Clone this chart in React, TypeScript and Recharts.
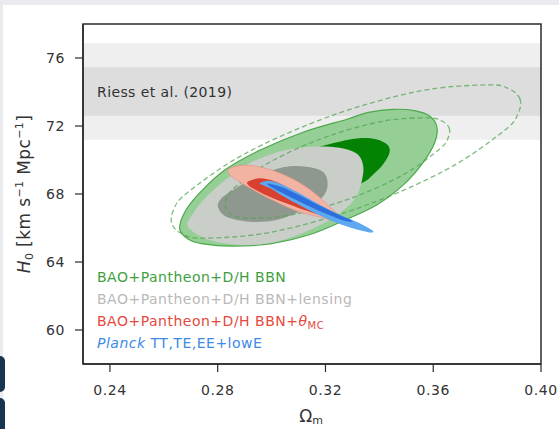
import React from 'react';
import { ScatterChart, Scatter, XAxis, YAxis, ReferenceArea, Curve, Customized } from 'recharts';

// ---- axes ----
const xDomain = [0.23, 0.4];
const yDomain = [58, 78];
const xTicks = [0.24, 0.28, 0.32, 0.36, 0.4];
const yTicks = [60, 64, 68, 72, 76];

// ---- Riess et al. (2019) band: H0 = 74.03 +- 1.42 ----
const riess1Sigma = [72.61, 75.45];
const riess2Sigma = [71.19, 76.87];

// ---- contours, [Omega_m, H0] ----
const green2Sigma = [
  [0.2659, 65.95], [0.269, 65.35], [0.274, 65.08], [0.2855, 64.93], [0.3, 65.08], [0.314, 65.6],
  [0.327, 66.45], [0.339, 67.35], [0.349, 68.55], [0.356, 69.8], [0.3605, 71.0], [0.3614, 71.9],
  [0.359, 72.55], [0.353, 72.9], [0.345, 72.98], [0.336, 72.8], [0.328, 72.4], [0.3115, 71.62],
  [0.296, 70.6], [0.283, 69.45], [0.2735, 68.1], [0.268, 67.0],
];
const green1Sigma = [
  [0.3178, 70.78], [0.3252, 71.08], [0.3326, 71.28], [0.3388, 71.22], [0.3431, 70.88], [0.3437, 70.39],
  [0.3412, 69.71], [0.3375, 69.12], [0.3344, 68.72], [0.325, 68.0], [0.312, 67.5], [0.299, 67.5],
  [0.293, 68.2], [0.299, 69.3], [0.308, 70.2],
];
const lensing2Sigma = [
  [0.269, 66.08], [0.277, 65.29], [0.2894, 65.0], [0.3017, 65.19], [0.3141, 65.88], [0.3252, 66.86],
  [0.3314, 67.84], [0.3338, 69.02], [0.3338, 69.81], [0.3314, 70.39], [0.3252, 70.72], [0.3153, 70.78],
  [0.3054, 70.59], [0.2943, 70.0], [0.2844, 69.02], [0.2758, 67.84], [0.2709, 66.86],
];
const lensing1Sigma = [
  [0.2801, 67.25], [0.2832, 66.66], [0.2919, 66.37], [0.3017, 66.47], [0.3116, 67.06], [0.319, 67.84],
  [0.3208, 68.63], [0.319, 69.31], [0.3129, 69.61], [0.3042, 69.57], [0.2943, 69.02], [0.2857, 68.24],
  [0.2814, 67.75],
];
const dashedOuter = [
  [0.3922, 73.59], [0.3916, 72.78], [0.3866, 71.76], [0.3651, 69.45], [0.3336, 67.25], [0.3004, 65.77],
  [0.2746, 65.4], [0.2667, 65.67], [0.263, 66.24], [0.2636, 67.05], [0.2686, 68.06], [0.2901, 70.37],
  [0.3216, 72.57], [0.3547, 74.05], [0.3806, 74.42], [0.3885, 74.15],
];
const dashedInner = [
  [0.3659, 71.88], [0.3656, 71.33], [0.3624, 70.65], [0.3487, 69.12], [0.3286, 67.7], [0.3073, 66.77],
  [0.2906, 66.58], [0.2854, 66.78], [0.283, 67.18], [0.2833, 67.73], [0.2865, 68.41], [0.3001, 69.94],
  [0.3203, 71.36], [0.3416, 72.29], [0.3583, 72.48], [0.3634, 72.28],
];
const theta2Sigma = [
  [0.284, 69.45], [0.2875, 69.66], [0.292, 69.68], [0.298, 69.5], [0.304, 69.18], [0.31, 68.7],
  [0.316, 68.05], [0.3215, 67.25], [0.3255, 66.62], [0.323, 66.45], [0.316, 66.72], [0.309, 67.02],
  [0.3, 67.66], [0.293, 68.25], [0.2875, 68.78], [0.2845, 69.12],
];
const theta1Sigma = [
  [0.2912, 68.72], [0.2956, 68.92], [0.301, 68.75], [0.3054, 68.43], [0.311, 67.95], [0.3153, 67.45],
  [0.32, 66.92], [0.3215, 66.7], [0.318, 66.78], [0.311, 67.12], [0.3054, 67.45], [0.299, 67.85],
  [0.294, 68.25], [0.2915, 68.5],
];
const planck2Sigma = [
  [0.2956, 68.63], [0.299, 68.78], [0.304, 68.55], [0.3091, 68.14], [0.315, 67.62], [0.3215, 67.08],
  [0.327, 66.66], [0.3314, 66.37], [0.3355, 66.05], [0.3378, 65.8], [0.3362, 65.74], [0.3301, 65.98],
  [0.3215, 66.47], [0.315, 66.95], [0.3091, 67.45], [0.304, 67.9], [0.3, 68.3], [0.2968, 68.52],
];
const planck1Sigma = [
  [0.2985, 68.62], [0.304, 68.4], [0.31, 67.95], [0.317, 67.38], [0.324, 66.85], [0.329, 66.5],
  [0.33, 66.38], [0.327, 66.42], [0.32, 66.85], [0.313, 67.35], [0.306, 67.9], [0.3005, 68.35],
];

const legendLabels = [
  'BAO+Pantheon+D/H BBN',
  'BAO+Pantheon+D/H BBN+lensing',
  'BAO+Pantheon+D/H BBN+',
  'TT,TE,EE+lowE',
];

const toPts = (arr: number[][]) => arr.map(([x, y]) => ({ x, y }));

// closed Catmull-Rom curve factory (d3 curve interface)
function catmullClosed(context: any) {
  let pts: number[][] = [];
  return {
    areaStart() {},
    areaEnd() {},
    lineStart() {
      pts = [];
    },
    point(x: number, y: number) {
      pts.push([x, y]);
    },
    lineEnd() {
      const n = pts.length;
      if (n < 3) return;
      context.moveTo(pts[0][0], pts[0][1]);
      for (let i = 0; i < n; i++) {
        const p0 = pts[(i - 1 + n) % n];
        const p1 = pts[i];
        const p2 = pts[(i + 1) % n];
        const p3 = pts[(i + 2) % n];
        context.bezierCurveTo(
          p1[0] + (p2[0] - p0[0]) / 6,
          p1[1] + (p2[1] - p0[1]) / 6,
          p2[0] - (p3[0] - p1[0]) / 6,
          p2[1] - (p3[1] - p1[1]) / 6,
          p2[0],
          p2[1]
        );
      }
      context.closePath();
    },
  };
}

const noShape = () => <g />;

function contour(key: string, data: number[][], style: any) {
  return (
    <Scatter
      key={key}
      data={toPts(data)}
      isAnimationActive={false}
      shape={noShape}
      lineType="joint"
      line={(p: any) => <Curve points={p.points} type={catmullClosed as any} {...style} />}
    />
  );
}

const AXIS = '#2b2b2b';
const TXT = '#333333';
const DASH = { fill: 'none', stroke: '#4fa34f', strokeOpacity: 0.72, strokeWidth: 1.3, strokeDasharray: '5 3' };

function TextLayer() {
  const fs = 14;
  const ls = 0.5;
  return (
    <g style={{ fontFamily: 'DejaVu Sans, sans-serif' }}>
      <text x={97} y={281.5} fontSize={fs} letterSpacing={ls} fill="#3f9f3f">{legendLabels[0]}</text>
      <text x={97} y={303.5} fontSize={fs} letterSpacing={ls} fill="#b9b9b9">{legendLabels[1]}</text>
      <text x={97} y={325.5} fontSize={fs} letterSpacing={ls} fill="#e5493d">
        {legendLabels[2]}
        <tspan fontStyle="italic">θ</tspan>
        <tspan fontSize={10} dy={3}>MC</tspan>
      </text>
      <text x={97} y={347.5} fontSize={fs} letterSpacing={ls} fill="#3d8ae8">
        <tspan fontStyle="italic">Planck</tspan> {legendLabels[3]}
      </text>
      <text x={311} y={422} fontSize={17} fill={TXT} textAnchor="middle">
        Ω<tspan fontSize={11} dy={2}>m</tspan>
      </text>
      <text
        x={24}
        y={194}
        transform="rotate(-90 24 194)"
        fontSize={17}
        letterSpacing={0.4}
        fill={TXT}
        textAnchor="middle"
        dy={6}
      >
        <tspan fontStyle="italic">H</tspan>
        <tspan fontSize={11} dy={3}>0</tspan>
        <tspan dy={-3}> [km s</tspan>
        <tspan fontSize={11} dy={-7}>−1</tspan>
        <tspan dy={7}> Mpc</tspan>
        <tspan fontSize={11} dy={-7}>−1</tspan>
        <tspan dy={7}>]</tspan>
      </text>
    </g>
  );
}

const riessLabel = (props: any) => {
  const vb = props.viewBox || { x: 83, y: 67, width: 458, height: 48 };
  return (
    <text
      x={vb.x + 14}
      y={vb.y + vb.height / 2 + 6}
      fontSize={14}
      letterSpacing={0.4}
      fill={TXT}
      style={{ fontFamily: 'DejaVu Sans, sans-serif' }}
    >
      Riess et al. (2019)
    </text>
  );
};

export default function App() {
  return (
    <div style={{ position: 'fixed', left: 0, top: 0, width: 559, height: 429, background: '#e9ebee', overflow: 'hidden' }}>
      <div style={{ position: 'absolute', left: 3, top: 5, right: 0, bottom: 0, background: '#ffffff' }} />
      <div style={{ position: 'absolute', left: 0, top: 356, width: 5, height: 36, background: '#18344f', borderRadius: '0 5px 5px 0' }} />
      <div style={{ position: 'absolute', left: 0, top: 398, width: 5, height: 31, background: '#18344f', borderRadius: '0 5px 0 0' }} />
      <div style={{ position: 'absolute', left: 0, top: 0 }}>
        <ScatterChart
          width={559}
          height={429}
          margin={{ top: 24, right: 18, bottom: 0, left: 0 }}
          style={{ fontFamily: 'DejaVu Sans, sans-serif' }}
        >
          <XAxis
            type="number"
            dataKey="x"
            domain={xDomain}
            allowDataOverflow
            ticks={xTicks}
            height={65}
            tickFormatter={(v: number) => v.toFixed(2)}
            tick={{ fontSize: 14, fill: TXT, letterSpacing: 0.6 }}
            tickSize={8}
            tickMargin={13}
            axisLine={{ stroke: AXIS, strokeWidth: 1.5 }}
            tickLine={{ stroke: AXIS, strokeWidth: 1.2 }}
          />
          <YAxis
            type="number"
            dataKey="y"
            domain={yDomain}
            allowDataOverflow
            ticks={yTicks}
            width={83}
            tick={{ fontSize: 14, fill: TXT, letterSpacing: 0.6 }}
            tickSize={8}
            tickMargin={10}
            axisLine={{ stroke: AXIS, strokeWidth: 1.5 }}
            tickLine={{ stroke: AXIS, strokeWidth: 1.2 }}
          />
          <ReferenceArea y1={riess2Sigma[0]} y2={riess2Sigma[1]} x1={xDomain[0]} x2={xDomain[1]} fill="#efefef" fillOpacity={1} stroke="none" />
          <ReferenceArea y1={riess1Sigma[0]} y2={riess1Sigma[1]} x1={xDomain[0]} x2={xDomain[1]} fill="#dddddd" fillOpacity={1} stroke="none" label={riessLabel} />
          {contour('g2', green2Sigma, { fill: '#95cf95', stroke: '#4ca84c', strokeWidth: 1.2 })}
          {contour('g1', green1Sigma, { fill: '#048204', stroke: 'none' })}
          {contour('l2', lensing2Sigma, { fill: '#c9cec9', stroke: 'none' })}
          {contour('l1', lensing1Sigma, { fill: '#8e988e', stroke: 'none' })}
          {contour('d2', dashedOuter, DASH)}
          {contour('d1', dashedInner, DASH)}
          {contour('t2', theta2Sigma, { fill: '#f3b3a2', stroke: '#e58c7c', strokeWidth: 0.6 })}
          {contour('t1', theta1Sigma, { fill: '#d8402f', stroke: 'none' })}
          {contour('p2', planck2Sigma, { fill: '#5da8ee', stroke: 'none' })}
          {contour('p1', planck1Sigma, { fill: '#2d6fdc', stroke: 'none' })}
          <ReferenceArea x1={xDomain[0]} x2={xDomain[1]} y1={yDomain[0]} y2={yDomain[1]} fill="none" stroke={AXIS} strokeWidth={1.5} />
          <Customized component={<TextLayer />} />
        </ScatterChart>
      </div>
    </div>
  );
}
